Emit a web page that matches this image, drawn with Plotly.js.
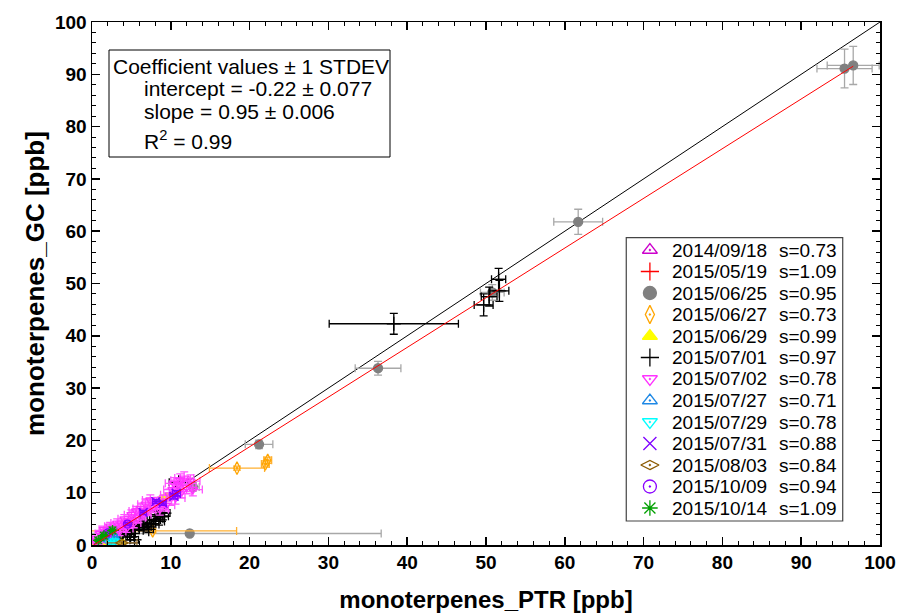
<!DOCTYPE html>
<html>
<head>
<meta charset="utf-8">
<script src="https://cdn.plot.ly/plotly-3.0.1.min.js"></script>
<style>html,body{margin:0;padding:0;background:#fff;}#chart{width:901px;height:613px;}</style>
</head>
<body>
<div id="chart"></div>
<script>
// ---- legend labels ----
const dates = ['2014/09/18','2015/05/19','2015/06/25','2015/06/27','2015/06/29','2015/07/01','2015/07/02','2015/07/27','2015/07/29','2015/07/31','2015/08/03','2015/10/09','2015/10/14'];
const sValues = ['0.73','1.09','0.95','0.73','0.99','0.97','0.78','0.71','0.78','0.88','0.84','0.94','1.09'];

// ---- fit ----
const fitIntercept = -0.22;
const fitSlope = 0.95;
const fitXRange = [0, 96.6];
const oneToOne = [0, 100];

// ---- series data (PTR x, GC y, x error, y error) ----
const x140918 = [0.5, 1.0, 1.8];
const y140918 = [0.8, 1.3, 2.0];
const ex140918 = [0.2, 0.2, 0.3];
const ey140918 = [0.2, 0.2, 0.3];

const x150519 = [0.4, 0.9];
const y150519 = [0.2, 0.7];
const ex150519 = [0.2, 0.2];
const ey150519 = [0.2, 0.2];

const x150625 = [95.5, 96.6, 61.7, 36.3, 21.2, 12.4, 12.8, 50.8];
const y150625 = [91.1, 91.7, 61.8, 33.8, 19.25, 2.2, 11.1, 48.3];
const ex150625 = [3.5, 3.3, 3.1, 2.9, 1.75, 24.3, 0.8, 1.5];
const ey150625 = [3.7, 3.65, 2.4, 1.3, 0.8, 0.3, 0.8, 1.5];

const x150627 = [22.0, 22.3, 18.4, 7.7];
const y150627 = [15.5, 16.2, 14.7, 2.7];
const ex150627 = [0.5, 0.5, 3.5, 10.65];
const ey150627 = [0.6, 0.6, 0.4, 0.4];

const x150629 = [0.3, 0.8, 1.3, 2.0, 2.8, 3.7, 7.0, 9.0, 9.5];
const y150629 = [-0.2, 0.3, 0.5, 0.6, 1.0, 0.6, 6.6, 8.7, 9.1];
const ex150629 = [0.2, 0.2, 0.2, 0.2, 0.3, 0.3, 0.4, 0.4, 0.4];
const ey150629 = [0.2, 0.2, 0.2, 0.2, 0.3, 0.3, 0.4, 0.4, 0.4];

const x150701 = [38.3, 49.7, 50.4, 51.7, 51.6, 11.0, 2.5, 3.0, 3.5, 4.0, 4.5, 4.8, 5.0, 5.2, 5.4, 5.5, 6.0, 6.2, 6.5, 7.0, 7.2, 7.5, 8.0, 8.2, 8.5, 9.0, 9.2];
const y150701 = [42.3, 45.9, 47.5, 48.6, 50.8, 12.0, 1.2, 2.4, 1.8, 2.6, 2.2, 1.5, 3.1, 4.0, 1.0, 2.8, 3.6, 4.6, 3.3, 4.2, 3.0, 4.0, 4.8, 5.8, 4.5, 5.5, 6.1];
const ex150701 = [8.2, 1.2, 1.0, 1.2, 0.9, 1.2, 0.4, 0.4, 0.4, 0.5, 0.5, 0.5, 0.5, 0.5, 0.5, 0.5, 0.6, 0.6, 0.6, 0.6, 0.6, 0.6, 0.7, 0.7, 0.7, 0.7, 0.7];
const ey150701 = [2.0, 2.1, 1.8, 2.0, 2.1, 0.8, 0.5, 0.5, 0.5, 0.5, 0.5, 0.5, 0.6, 0.6, 0.6, 0.6, 0.6, 0.6, 0.6, 0.6, 0.6, 0.6, 0.7, 0.7, 0.7, 0.7, 0.7];

const x150702 = [0.2, 0.5, 0.8, 1.0, 1.3, 1.5, 1.8, 2.0, 2.3, 2.6, 2.9, 3.2, 3.5, 3.8, 4.1, 4.4, 4.7, 5.0, 5.3, 5.6, 5.9, 6.2, 6.5, 6.8, 7.1, 7.4, 7.8, 8.2, 8.6, 9.0, 9.4, 9.8, 10.2, 10.6, 11.0, 11.4, 11.7, 12.0, 12.5, 11.2, 12.8, 10.4];
const y150702 = [0.3, 1.2, 0.6, 2.2, 1.5, 3.0, 1.0, 2.5, 3.6, 1.8, 3.0, 4.2, 2.6, 3.8, 5.0, 3.2, 4.6, 5.8, 4.2, 6.5, 5.2, 7.0, 5.8, 7.8, 6.6, 8.6, 7.2, 8.0, 6.8, 8.4, 7.6, 9.6, 10.6, 9.0, 11.6, 10.2, 12.8, 11.0, 12.2, 12.4, 10.6, 11.8];
const ex150702 = [0.5, 0.5, 0.5, 0.6, 0.6, 0.6, 0.6, 0.7, 0.7, 0.7, 0.7, 0.8, 0.8, 0.8, 0.8, 0.8, 0.9, 0.9, 0.9, 0.9, 0.9, 1.0, 1.0, 1.0, 1.0, 1.0, 1.0, 1.1, 1.1, 1.1, 1.1, 1.1, 1.1, 1.2, 1.2, 1.2, 1.2, 1.2, 1.2, 1.2, 1.2, 1.1];
const ey150702 = [0.5, 0.5, 0.5, 0.6, 0.6, 0.6, 0.6, 0.7, 0.7, 0.7, 0.7, 0.8, 0.8, 0.8, 0.8, 0.8, 0.9, 0.9, 0.9, 0.9, 0.9, 1.0, 1.0, 1.0, 1.0, 1.0, 1.0, 1.1, 1.1, 1.1, 1.1, 1.1, 1.1, 1.2, 1.2, 1.2, 1.2, 1.2, 1.2, 1.2, 1.2, 1.1];

const x150727 = [2.0, 2.5, 3.0];
const y150727 = [1.0, 0.5, 1.4];
const ex150727 = [0.2, 0.2, 0.2];
const ey150727 = [0.2, 0.2, 0.2];

const x150729 = [2.3, 2.8];
const y150729 = [0.3, 0.8];
const ex150729 = [0.2, 0.2];
const ey150729 = [0.2, 0.2];

const x150731 = [6.5, 8.1, 9.0, 10.4, 10.7];
const y150731 = [6.2, 8.3, 8.0, 9.3, 9.9];
const ex150731 = [0.4, 0.4, 0.4, 0.5, 0.5];
const ey150731 = [0.4, 0.4, 0.4, 0.5, 0.5];

const x150803 = [3.8];
const y150803 = [0.4];
const ex150803 = [1.9];
const ey150803 = [0.3];

const x151009 = [2.0, 4.5];
const y151009 = [2.3, 4.0];
const ex151009 = [0.2, 0.3];
const ey151009 = [0.2, 0.3];

const x151014 = [0.8, 1.5, 2.6];
const y151014 = [0.9, 1.8, 2.8];
const ex151014 = [0.2, 0.2, 0.2];
const ey151014 = [0.2, 0.2, 0.2];

// ---- styles ----
const seriesData = [
  [x140918, y140918, ex140918, ey140918],
  [x150519, y150519, ex150519, ey150519],
  [x150625, y150625, ex150625, ey150625],
  [x150627, y150627, ex150627, ey150627],
  [x150629, y150629, ex150629, ey150629],
  [x150701, y150701, ex150701, ey150701],
  [x150702, y150702, ex150702, ey150702],
  [x150727, y150727, ex150727, ey150727],
  [x150729, y150729, ex150729, ey150729],
  [x150731, y150731, ex150731, ey150731],
  [x150803, y150803, ex150803, ey150803],
  [x151009, y151009, ex151009, ey151009],
  [x151014, y151014, ex151014, ey151014]
];
const styles = [
  {symbol:'triangle-up-open-dot', color:'#CC00CC', err:'#CC00CC', size:8},
  {symbol:'cross-thin-open', color:'#FF0000', err:'#FF0000', size:10},
  {symbol:'circle', color:'#808080', err:'#A8A8A8', size:9},
  {symbol:'diamond-tall-open-dot', color:'#FFA500', err:'#FFB030', size:9},
  {symbol:'triangle-up', color:'#FFFF00', err:'#E8E800', size:8},
  {symbol:'cross-thin-open', color:'#000000', err:'#000000', size:10},
  {symbol:'triangle-down-open-dot', color:'#FF33FF', err:'#FF55FF', size:8},
  {symbol:'triangle-up-open-dot', color:'#1E88E5', err:'#1E88E5', size:8},
  {symbol:'triangle-down-open-dot', color:'#00FFFF', err:'#00E0E0', size:8},
  {symbol:'x-thin-open', color:'#7F00FF', err:'#7F00FF', size:9},
  {symbol:'diamond-wide-open-dot', color:'#8B5A00', err:'#A07838', size:9},
  {symbol:'circle-open-dot', color:'#8800FF', err:'#8800FF', size:8},
  {symbol:'asterisk-open', color:'#00A000', err:'#00A000', size:9}
];

const FONT = 'Arial, "Liberation Sans", sans-serif';
const traces = [];

// 1:1 line
traces.push({x: oneToOne, y: oneToOne, mode:'lines', line:{color:'#000', width:1}, showlegend:false, hoverinfo:'skip'});

seriesData.forEach((d, i) => {
  const s = styles[i];
  traces.push({
    x: d[0], y: d[1], mode:'markers', type:'scatter', showlegend:false,
    marker:{symbol:s.symbol, color:s.color, size:s.size, line:{color:s.color, width:1.3}},
    error_x:{type:'data', array:d[2], visible:true, color:s.err, thickness:1.3, width:4},
    error_y:{type:'data', array:d[3], visible:true, color:s.err, thickness:1.3, width:4}
  });
});

// fit line
traces.push({x: fitXRange, y: fitXRange.map(v => fitIntercept + fitSlope * v), mode:'lines', line:{color:'#FF0000', width:1}, showlegend:false, hoverinfo:'skip'});

// manual legend (overlay axes in paper units)
const legX = 0.708, legTextX = 0.7335, legSX = 0.8687;
const rowY = i => (295 - 21.5 * i) / 523;
traces.push({
  x: dates.map(() => legX), y: dates.map((_, i) => rowY(i)),
  xaxis:'x2', yaxis:'y2', mode:'markers', showlegend:false, hoverinfo:'skip', cliponaxis:false,
  marker:{symbol: styles.map(s => s.symbol), color: styles.map(s => s.color), size: 13,
          line:{color: styles.map(s => s.color), width:1.3}}
});

const annotations = [];
dates.forEach((d, i) => {
  annotations.push({xref:'paper', yref:'paper', x:legTextX, y:rowY(i), xanchor:'left', yanchor:'middle', text:d, showarrow:false, font:{family:FONT, size:19, color:'#000'}});
  annotations.push({xref:'paper', yref:'paper', x:legSX, y:rowY(i), xanchor:'left', yanchor:'middle', text:'s=' + sValues[i], showarrow:false, font:{family:FONT, size:19, color:'#000'}});
});
// coefficient box text
const coefLines = [
  {text:'Coefficient values \u00b1 1 STDEV', x:111, y:66},
  {text:'intercept = ' + fitIntercept.toFixed(2) + ' \u00b1 0.077', x:142, y:88},
  {text:'slope = ' + fitSlope.toFixed(2) + ' \u00b1 0.006', x:142, y:111},
  {text:'R<sup>2</sup> = 0.99', x:142, y:140}
];
coefLines.forEach(l => annotations.push({xref:'paper', yref:'paper', x:(l.x - 92) / 788, y:(545 - l.y) / 523, xanchor:'left', yanchor:'middle', text:l.text, showarrow:false, font:{family:FONT, size:21, color:'#000'}}));

const shapes = [
  {type:'rect', xref:'paper', yref:'paper', x0:(109-92)/788, x1:(390-92)/788, y0:(545-157)/523, y1:(545-50)/523, line:{color:'#000', width:1}, fillcolor:'#fff', layer:'below'},
  {type:'rect', xref:'paper', yref:'paper', x0:0.678, x1:0.9527, y0:0.0459, y1:0.5876, line:{color:'#444', width:1.2}, fillcolor:'#fff', layer:'below'}
];

const axisCommon = {
  range:[0,100], dtick:10, tick0:0, ticks:'inside', ticklen:8, tickwidth:1.5, tickcolor:'#000',
  showline:true, linecolor:'#000', linewidth:1.5, mirror:'ticks', showgrid:false, zeroline:false,
  tickfont:{family:FONT, size:19, color:'#000', weight:'bold'},
  minor:{dtick:2, ticks:'inside', ticklen:4, tickwidth:1, tickcolor:'#000', showgrid:false}
};

const layout = {
  width:901, height:613,
  margin:{l:92, r:21, t:22, b:68},
  paper_bgcolor:'#fff', plot_bgcolor:'#fff',
  showlegend:false,
  xaxis: Object.assign({}, axisCommon, {title:{text:'monoterpenes_PTR [ppb]', font:{family:FONT, size:24, color:'#000', weight:'bold'}, standoff:20}}),
  yaxis: Object.assign({}, axisCommon, {title:{text:'monoterpenes_GC [ppb]', font:{family:FONT, size:26, color:'#000', weight:'bold'}, standoff:3}}),
  xaxis2:{overlaying:'x', range:[0,1], visible:false, fixedrange:true},
  yaxis2:{overlaying:'y', range:[0,1], visible:false, fixedrange:true},
  annotations: annotations,
  shapes: shapes
};

Plotly.newPlot('chart', traces, layout, {displayModeBar:false, staticPlot:true});
</script>
</body>
</html>
